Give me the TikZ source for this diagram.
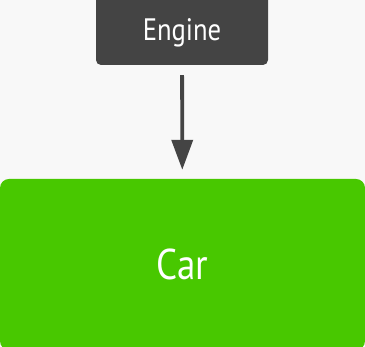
\documentclass[tikz,border=0pt]{standalone}
\usepackage{fontspec}
\setmainfont{PT Sans}[FakeStretch=0.86]
\usepackage{xcolor}
\usetikzlibrary{arrows.meta,positioning}
\definecolor{cBack}{HTML}{F8F8F8}
\definecolor{cDark}{HTML}{444444}
\definecolor{cCar}{HTML}{48C800}
\tikzset{
  box/.style   = {rectangle, rounded corners=5pt, fill=#1, text=white,
                  align=center, inner sep=0pt},
  box/.default = cDark,
  part/.style  = {box=cDark, minimum width=172pt, minimum height=71pt, text depth=0pt,
                  font=\fontsize{31}{36}\selectfont},
  whole/.style = {box=cCar, rounded corners=9pt, minimum width=365pt, minimum height=171pt,
                  font=\fontsize{43}{50}\selectfont},
  dep/.style   = {-{Triangle[length=30pt,width=21pt]}, draw=cDark, line width=3.8pt,
                  shorten <=10pt, shorten >=9pt},
}
\begin{document}
\begin{tikzpicture}[x=1pt,y=1pt]
  \fill[cBack] (0,0) rectangle (365,347);
  \clip (0,0) rectangle (365,347);
  \useasboundingbox (0,0) rectangle (365,347);

  \node[part] (engine) at (182,317.5) {Engine};
  \node[whole] (car) at (182.5,82.5) {Car};

  \draw[dep] (engine) -- (car);
\end{tikzpicture}
\end{document}
